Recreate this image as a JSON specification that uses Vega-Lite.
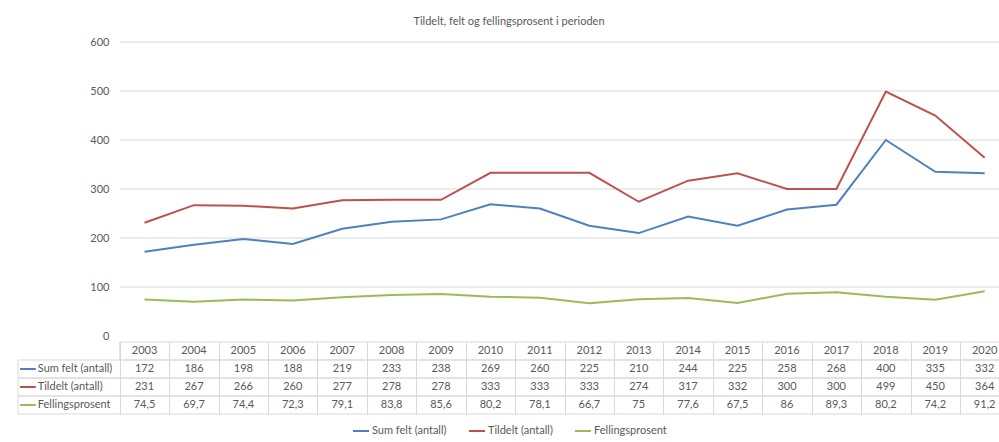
{
  "$schema": "https://vega.github.io/schema/vega-lite/v6.json",
  "padding": {"left": 17, "top": 16, "right": 0, "bottom": 2},
  "config": {
    "font": "Lato",
    "locale": {"number": {"decimal": ",", "thousands": " ", "grouping": [3], "currency": ["", " kr"]}},
    "view": {"stroke": null},
    "concat": {"spacing": 0}
  },
  "title": {"text": "Tildelt, felt og fellingsprosent i perioden", "fontSize": 11, "fontWeight": "normal", "color": "#595959", "anchor": "middle", "offset": 9},
  "datasets": {
    "tab": [
      {"year": 2003, "Sum felt (antall)": 172, "Tildelt (antall)": 231, "Fellingsprosent": 74.5},
      {"year": 2004, "Sum felt (antall)": 186, "Tildelt (antall)": 267, "Fellingsprosent": 69.7},
      {"year": 2005, "Sum felt (antall)": 198, "Tildelt (antall)": 266, "Fellingsprosent": 74.4},
      {"year": 2006, "Sum felt (antall)": 188, "Tildelt (antall)": 260, "Fellingsprosent": 72.3},
      {"year": 2007, "Sum felt (antall)": 219, "Tildelt (antall)": 277, "Fellingsprosent": 79.1},
      {"year": 2008, "Sum felt (antall)": 233, "Tildelt (antall)": 278, "Fellingsprosent": 83.8},
      {"year": 2009, "Sum felt (antall)": 238, "Tildelt (antall)": 278, "Fellingsprosent": 85.6},
      {"year": 2010, "Sum felt (antall)": 269, "Tildelt (antall)": 333, "Fellingsprosent": 80.2},
      {"year": 2011, "Sum felt (antall)": 260, "Tildelt (antall)": 333, "Fellingsprosent": 78.1},
      {"year": 2012, "Sum felt (antall)": 225, "Tildelt (antall)": 333, "Fellingsprosent": 66.7},
      {"year": 2013, "Sum felt (antall)": 210, "Tildelt (antall)": 274, "Fellingsprosent": 75},
      {"year": 2014, "Sum felt (antall)": 244, "Tildelt (antall)": 317, "Fellingsprosent": 77.6},
      {"year": 2015, "Sum felt (antall)": 225, "Tildelt (antall)": 332, "Fellingsprosent": 67.5},
      {"year": 2016, "Sum felt (antall)": 258, "Tildelt (antall)": 300, "Fellingsprosent": 86},
      {"year": 2017, "Sum felt (antall)": 268, "Tildelt (antall)": 300, "Fellingsprosent": 89.3},
      {"year": 2018, "Sum felt (antall)": 400, "Tildelt (antall)": 499, "Fellingsprosent": 80.2},
      {"year": 2019, "Sum felt (antall)": 335, "Tildelt (antall)": 450, "Fellingsprosent": 74.2},
      {"year": 2020, "Sum felt (antall)": 332, "Tildelt (antall)": 364, "Fellingsprosent": 91.2}
    ],
    "grid": [{"v": 100}, {"v": 200}, {"v": 300}, {"v": 400}, {"v": 500}, {"v": 600}]
  },
  "vconcat": [
    {
      "width": 982,
      "height": 294,
      "layer": [
        {
          "data": {"name": "grid"},
          "mark": {"type": "rule", "color": "#d9d9d9", "strokeWidth": 1},
          "encoding": {
            "y": {"field": "v", "type": "quantitative", "scale": {"domain": [0, 600]},
              "axis": {"values": [0, 100, 200, 300, 400, 500, 600], "grid": false, "domain": false, "ticks": false, "tickSize": 0, "offset": -91, "labelPadding": 0, "labelColor": "#595959", "labelFontSize": 11, "title": null}},
            "x": {"datum": 2002.5, "type": "quantitative", "scale": {"domain": [2000.44, 2020.31], "nice": false, "zero": false}, "axis": null},
            "x2": {"datum": 2020.31}
          }
        },
        {
          "data": {"name": "tab"},
          "transform": [{"fold": ["Sum felt (antall)", "Tildelt (antall)", "Fellingsprosent"], "as": ["series", "value"]}],
          "mark": {"type": "line", "strokeWidth": 2},
          "encoding": {
            "x": {"field": "year", "type": "quantitative", "scale": {"domain": [2000.44, 2020.31], "nice": false, "zero": false}, "axis": null},
            "y": {"field": "value", "type": "quantitative", "scale": {"domain": [0, 600]},
              "axis": {"values": [0, 100, 200, 300, 400, 500, 600], "grid": false, "domain": false, "ticks": false, "tickSize": 0, "offset": -91, "labelPadding": 0, "labelColor": "#595959", "labelFontSize": 11, "title": null}},
            "color": {"field": "series", "type": "nominal",
              "scale": {"domain": ["Sum felt (antall)", "Tildelt (antall)", "Fellingsprosent"], "range": ["#4F81BD", "#C0504D", "#9BBB59"]},
              "legend": {"orient": "none", "legendX": 334, "legendY": 380, "direction": "horizontal", "title": null, "symbolType": "stroke", "symbolStrokeWidth": 2, "symbolSize": 256, "labelFontSize": 11, "labelColor": "#595959", "columnPadding": 18, "labelOffset": 2}
            }
          }
        }
      ]
    },
    {
      "width": 982,
      "height": 72,
      "layer": [
        {
          "data": {"name": "tab"},
          "transform": [{"filter": "datum.year == 2003"}],
          "mark": {"type": "rect", "fill": null, "stroke": "#d9d9d9", "strokeWidth": 1},
          "encoding": {
            "x": {"datum": 2002.5, "type": "quantitative", "scale": {"domain": [2000.44, 2020.31], "nice": false, "zero": false},
              "axis": {"values": [2002.5, 2003.5, 2004.5, 2005.5, 2006.5, 2007.5, 2008.5, 2009.5, 2010.5, 2011.5, 2012.5, 2013.5, 2014.5, 2015.5, 2016.5, 2017.5, 2018.5, 2019.5], "grid": true, "gridColor": "#d9d9d9", "labels": false, "ticks": false, "domain": false, "title": null}},
            "x2": {"datum": 2020.31},
            "y": {"datum": "År", "type": "nominal", "scale": {"type": "band", "domain": ["År", "Sum felt (antall)", "Tildelt (antall)", "Fellingsprosent"], "paddingInner": 0, "paddingOuter": 0}, "axis": null}
          }
        },
        {
          "data": {"name": "tab"},
          "transform": [{"filter": "datum.year == 2003"}, {"fold": ["Sum felt (antall)", "Tildelt (antall)", "Fellingsprosent"], "as": ["series", "value"]}],
          "mark": {"type": "rect", "fill": null, "stroke": "#d9d9d9", "strokeWidth": 1},
          "encoding": {
            "x": {"datum": 2000.44, "type": "quantitative"},
            "x2": {"datum": 2020.31},
            "y": {"field": "series", "type": "nominal"}
          }
        },
        {
          "data": {"name": "tab"},
          "mark": {"type": "text", "fontSize": 11, "color": "#595959"},
          "encoding": {
            "x": {"field": "year", "type": "quantitative"},
            "y": {"datum": "År", "type": "nominal"},
            "text": {"field": "year", "type": "nominal"}
          }
        },
        {
          "data": {"name": "tab"},
          "transform": [{"fold": ["Sum felt (antall)", "Tildelt (antall)", "Fellingsprosent"], "as": ["series", "value"]}],
          "mark": {"type": "text", "fontSize": 11, "color": "#595959"},
          "encoding": {
            "x": {"field": "year", "type": "quantitative"},
            "y": {"field": "series", "type": "nominal"},
            "text": {"field": "value", "type": "quantitative", "format": ".1~f"}
          }
        },
        {
          "data": {"name": "tab"},
          "transform": [{"filter": "datum.year == 2003"}, {"fold": ["Sum felt (antall)", "Tildelt (antall)", "Fellingsprosent"], "as": ["series", "value"]}],
          "mark": {"type": "text", "fontSize": 11, "color": "#595959", "align": "left"},
          "encoding": {
            "x": {"datum": 2000.84, "type": "quantitative"},
            "y": {"field": "series", "type": "nominal"},
            "text": {"field": "series", "type": "nominal"}
          }
        },
        {
          "data": {"name": "tab"},
          "transform": [{"filter": "datum.year == 2003"}, {"fold": ["Sum felt (antall)", "Tildelt (antall)", "Fellingsprosent"], "as": ["series", "value"]}],
          "mark": {"type": "rule", "strokeWidth": 2},
          "encoding": {
            "x": {"datum": 2000.48, "type": "quantitative"},
            "x2": {"datum": 2000.8},
            "y": {"field": "series", "type": "nominal"},
            "color": {"field": "series", "type": "nominal"}
          }
        }
      ]
    }
  ]
}
